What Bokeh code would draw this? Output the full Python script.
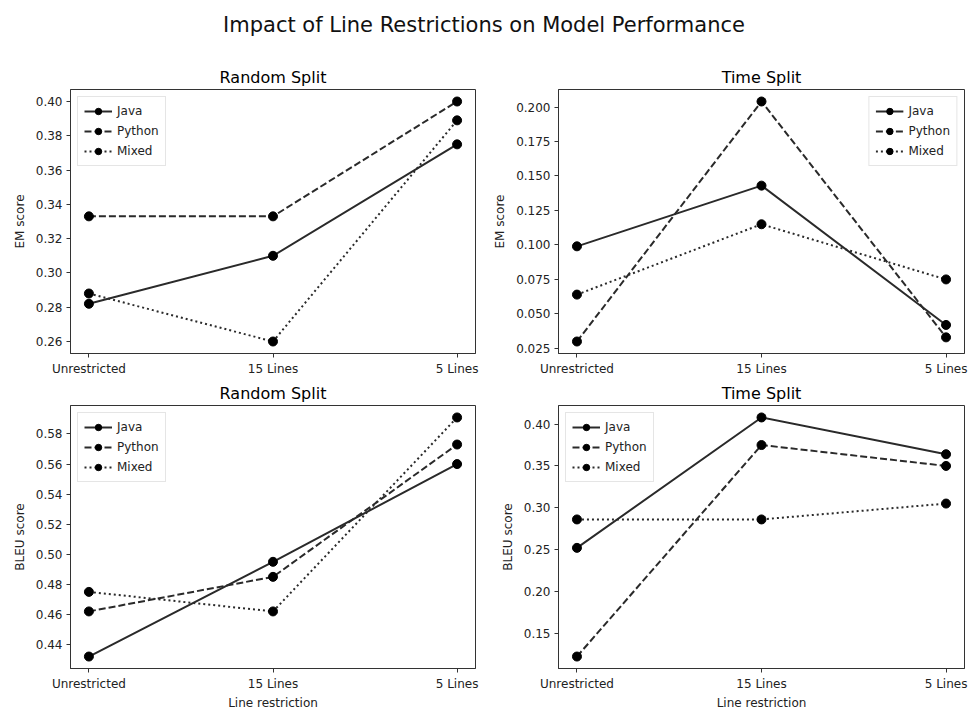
from bokeh.plotting import figure
from bokeh.layouts import gridplot, column
from bokeh.models import Range1d, FixedTicker, NumeralTickFormatter, Legend, LegendItem, Div
from bokeh.embed import file_html
from bokeh.resources import INLINE

# ---- data ----
categories = ["Unrestricted", "15 Lines", "5 Lines"]
series_names = ["Java", "Python", "Mixed"]

em_random_java = [0.282, 0.310, 0.375]
em_random_python = [0.333, 0.333, 0.400]
em_random_mixed = [0.288, 0.260, 0.389]

em_time_java = [0.099, 0.143, 0.042]
em_time_python = [0.030, 0.204, 0.033]
em_time_mixed = [0.064, 0.115, 0.075]

bleu_random_java = [0.432, 0.495, 0.560]
bleu_random_python = [0.462, 0.485, 0.573]
bleu_random_mixed = [0.475, 0.462, 0.591]

bleu_time_java = [0.252, 0.408, 0.364]
bleu_time_python = [0.122, 0.375, 0.350]
bleu_time_mixed = [0.286, 0.286, 0.305]

em_random_ticks = [0.26, 0.28, 0.30, 0.32, 0.34, 0.36, 0.38, 0.40]
em_time_ticks = [0.025, 0.050, 0.075, 0.100, 0.125, 0.150, 0.175, 0.200]
bleu_random_ticks = [0.44, 0.46, 0.48, 0.50, 0.52, 0.54, 0.56, 0.58]
bleu_time_ticks = [0.15, 0.20, 0.25, 0.30, 0.35, 0.40]

FONT = "DejaVu Sans"
DASHES = ["solid", "7 3", "2 3"]


def make_panel(title, ylabel, series, yticks, fmt, legend_loc, xlabel,
               frame_w, frame_h, bl, br, bt, bb):
    xs = list(range(len(categories)))
    allv = [v for s in series for v in s]
    lo, hi = min(allv), max(allv)
    pad = (hi - lo) * 0.05
    p = figure(frame_width=frame_w, frame_height=frame_h,
               min_border_left=bl, min_border_right=br,
               min_border_top=bt, min_border_bottom=bb,
               output_backend="svg", toolbar_location=None,
               x_range=Range1d(-0.1, len(categories) - 0.9),
               y_range=Range1d(lo - pad, hi + pad))
    p.title.text = title
    p.title.align = "center"
    p.title.text_font = FONT
    p.title.text_font_size = "16px"
    p.title.text_font_style = "normal"
    p.title.text_color = "black"
    p.title.standoff = 6
    p.background_fill_color = "white"
    p.border_fill_color = "white"
    p.outline_line_color = "#333333"
    p.outline_line_width = 1
    p.xgrid.visible = False
    p.ygrid.visible = False

    p.xaxis.ticker = FixedTicker(ticks=xs)
    p.xaxis.major_label_overrides = {i: c for i, c in enumerate(categories)}
    p.yaxis.ticker = FixedTicker(ticks=yticks)
    p.yaxis.formatter = NumeralTickFormatter(format=fmt)
    for ax in (p.xaxis, p.yaxis):
        ax.axis_line_color = "#333333"
        ax.major_tick_line_color = "#333333"
        ax.major_tick_in = 0
        ax.major_tick_out = 4
        ax.minor_tick_line_color = None
        ax.major_label_text_font = FONT
        ax.major_label_text_font_size = "12px"
        ax.major_label_text_color = "#222222"
        ax.major_label_standoff = 4
        ax.axis_label_text_font = FONT
        ax.axis_label_text_font_size = "12px"
        ax.axis_label_text_font_style = "normal"
        ax.axis_label_text_color = "#222222"
    p.yaxis.axis_label = ylabel
    p.yaxis.axis_label_standoff = 6
    if xlabel:
        p.xaxis.axis_label = xlabel
        p.xaxis.axis_label_standoff = 2

    items = []
    for name, ys, dash in zip(series_names, series, DASHES):
        r1 = p.line(xs, ys, line_color="#2a2a2a", line_width=2, line_dash=dash)
        r2 = p.scatter(xs, ys, size=9, fill_color="black", line_color="black")
        items.append(LegendItem(label=name, renderers=[r1, r2]))
    legend = Legend(items=items, location=legend_loc,
                    label_text_font=FONT, label_text_font_size="12px",
                    label_text_color="#222222",
                    glyph_width=28, glyph_height=16, label_height=16,
                    spacing=4, padding=6, margin=7,
                    border_line_color="#cccccc", border_line_width=1,
                    background_fill_alpha=0.85)
    p.add_layout(legend)
    return p


p1 = make_panel("Random Split", "EM score",
                [em_random_java, em_random_python, em_random_mixed],
                em_random_ticks, "0.00", "top_left", None,
                405, 264, 70, 15, 34, 22)
p2 = make_panel("Time Split", "EM score",
                [em_time_java, em_time_python, em_time_mixed],
                em_time_ticks, "0.000", "top_right", None,
                406, 264, 67, 5, 34, 22)
p3 = make_panel("Random Split", "BLEU score",
                [bleu_random_java, bleu_random_python, bleu_random_mixed],
                bleu_random_ticks, "0.00", "top_left", "Line restriction",
                405, 263, 70, 15, 27, 38)
p4 = make_panel("Time Split", "BLEU score",
                [bleu_time_java, bleu_time_python, bleu_time_mixed],
                bleu_time_ticks, "0.00", "top_left", "Line restriction",
                406, 263, 67, 5, 27, 38)

title = Div(text="Impact of Line Restrictions on Model Performance",
            width=968, height=55, margin=(0, 0, 0, 0),
            styles={"font-family": FONT, "font-size": "21px", "color": "#111111",
                    "text-align": "center", "width": "968px",
                    "padding-top": "10px", "box-sizing": "border-box"})

grid = gridplot([[p1, p2], [p3, p4]], toolbar_location=None)
layout = column(title, grid, spacing=0)

open("out.html", "w").write(file_html(layout, INLINE))
